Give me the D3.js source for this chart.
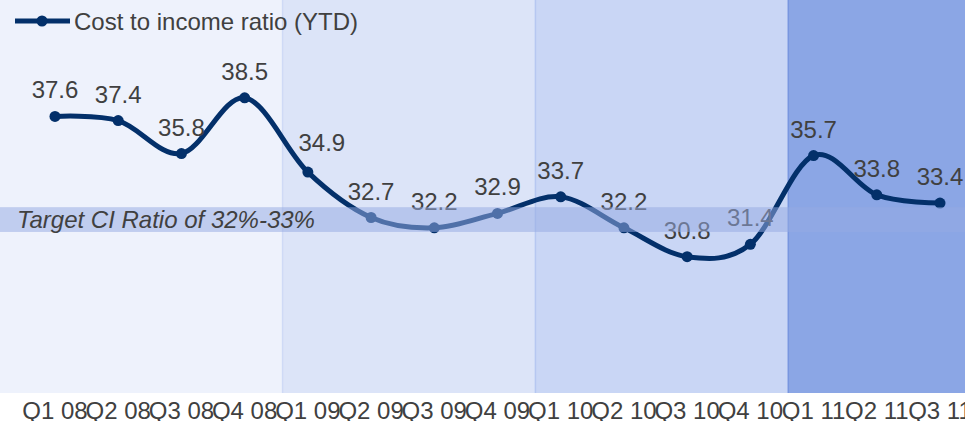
<!DOCTYPE html>
<html>
<head>
<meta charset="utf-8">
<script src="https://cdn.jsdelivr.net/npm/d3@7"></script>
<style>
  body { margin: 0; background: #fff; }
  svg { display: block; font-family: "Liberation Sans", Arial, sans-serif; }
</style>
</head>
<body>
<div id="draw-area"></div>
<script>
// data
var quarters = ["Q1 08","Q2 08","Q3 08","Q4 08","Q1 09","Q2 09","Q3 09","Q4 09",
                "Q1 10","Q2 10","Q3 10","Q4 10","Q1 11","Q2 11","Q3 11"];
var ciRatio = [37.6, 37.4, 35.8, 38.5, 34.9, 32.7, 32.2, 32.9,
               33.7, 32.2, 30.8, 31.4, 35.7, 33.8, 33.4];
var yearStarts = ["Q1 08", "Q1 09", "Q1 10", "Q1 11"];
var yearColors = ["#eef2fc", "#dce4f8", "#c9d6f5", "#8ba6e5"];
var yearEdges  = [null, "#cfdaf6", "#b6c7f1", "#7896df"];
var targetBand = [32.0, 33.2];
var seriesName = "Cost to income ratio (YTD)";
var targetLabel = "Target CI Ratio of 32%-33%";

var W = 965, H = 421, plotBottom = 393;
var lineColor = "#03306a", textColor = "#404040";

var svg = d3.select("#draw-area").append("svg")
    .attr("width", W)
    .attr("height", H);

var x = d3.scalePoint().domain(quarters).range([55, 940]);
var y = d3.scaleLinear().domain([24, 43]).range([397, 5]);
var step = x.step();

// year background blocks
var starts = yearStarts.map(function(q, i){
    return i === 0 ? 0 : x(q) - 0.4 * step;
});
var bg = svg.append("g");
yearStarts.forEach(function(q, i){
    var x0 = starts[i], x1 = i < starts.length - 1 ? starts[i+1] : W;
    bg.append("rect")
        .attr("x", x0).attr("y", 0)
        .attr("width", x1 - x0).attr("height", plotBottom)
        .style("fill", yearColors[i]);
    if (yearEdges[i])
        bg.append("line")
            .attr("x1", x0).attr("x2", x0)
            .attr("y1", 0).attr("y2", plotBottom)
            .style("stroke", yearEdges[i]).style("stroke-width", 1.5);
});

// smoothed line (excel style)
var valueline = d3.line()
    .x(function(d, i){ return x(quarters[i]); })
    .y(function(d){ return y(d); })
    .curve(d3.curveCardinal.tension(0));

svg.append("path")
    .datum(ciRatio)
    .attr("d", valueline)
    .style("fill", "none")
    .style("stroke", lineColor)
    .style("stroke-width", 5)
    .style("stroke-linejoin", "round");

svg.append("g").selectAll("circle")
    .data(ciRatio)
    .enter().append("circle")
    .attr("cx", function(d, i){ return x(quarters[i]); })
    .attr("cy", function(d){ return y(d); })
    .attr("r", 5.5)
    .style("fill", lineColor);

// data labels, one nudged like in the original
var labelNudge = {"Q1 09": 14};
svg.append("g").selectAll("text")
    .data(ciRatio)
    .enter().append("text")
    .attr("x", function(d, i){ return x(quarters[i]) + (labelNudge[quarters[i]] || 0); })
    .attr("y", function(d, i){ return y(d) - 18 - (labelNudge[quarters[i]] ? 3 : 0); })
    .attr("text-anchor", "middle")
    .style("font-size", "24px")
    .style("fill", textColor)
    .text(function(d){ return d.toFixed(1); });

// target band sits over the line
svg.append("rect")
    .attr("x", 0).attr("width", W)
    .attr("y", y(targetBand[1]))
    .attr("height", y(targetBand[0]) - y(targetBand[1]))
    .style("fill", "rgb(149,170,226)")
    .style("opacity", 0.52);

svg.append("text")
    .attr("x", 17)
    .attr("y", (y(targetBand[0]) + y(targetBand[1])) / 2 + 8.5)
    .style("font-size", "24px")
    .style("font-style", "italic")
    .style("fill", textColor)
    .text(targetLabel);

// x axis labels
svg.append("g").selectAll("text")
    .data(quarters)
    .enter().append("text")
    .attr("x", function(d){ return x(d); })
    .attr("y", 419)
    .attr("text-anchor", "middle")
    .style("font-size", "24px")
    .style("fill", textColor)
    .text(function(d){ return d; });

// legend
var lg = svg.append("g").attr("transform", "translate(15,21)");
lg.append("line")
    .attr("x1", 0).attr("x2", 55)
    .style("stroke", lineColor).style("stroke-width", 5);
lg.append("circle")
    .attr("cx", 27).attr("r", 5.5)
    .style("fill", lineColor);
lg.append("text")
    .attr("x", 59).attr("y", 8.5)
    .style("font-size", "24px")
    .style("fill", textColor)
    .text(seriesName);
</script>
</body>
</html>
